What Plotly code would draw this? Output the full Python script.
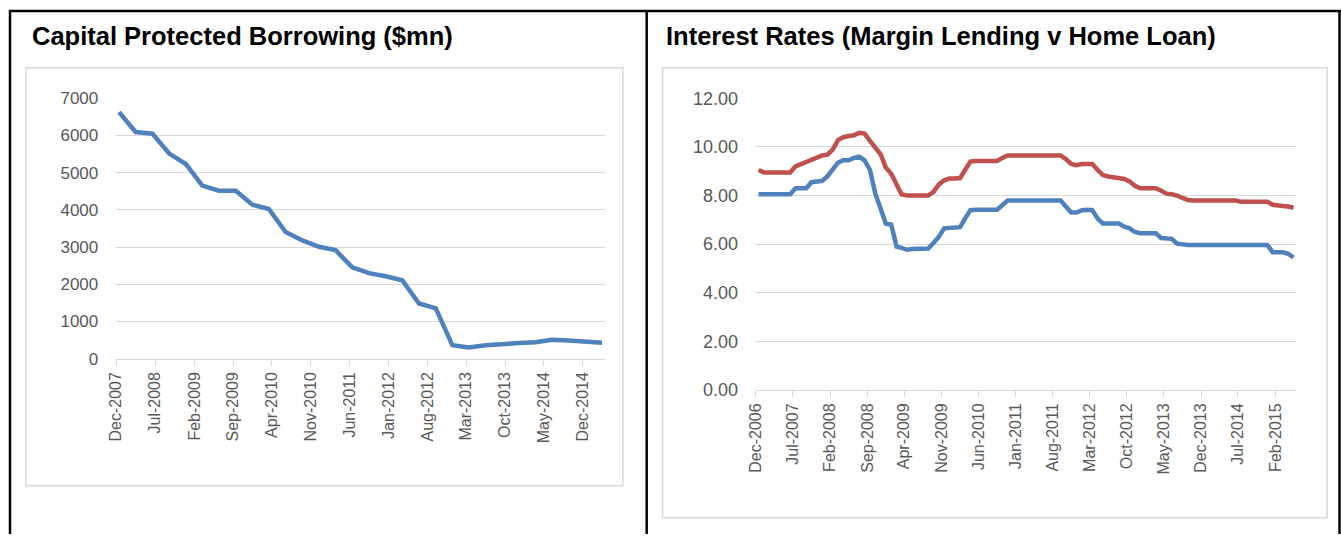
import pandas as pd
import plotly.graph_objects as go

W, H = 1341, 544

# ---------------- data ----------------
cpb_start = "2007-12-01"   # quarterly, Dec-2007 .. Mar-2015
cpb_values = [6630, 6095, 6050, 5515, 5235, 4655, 4515, 4515, 4140, 4025,
              3405, 3180, 3010, 2920, 2455, 2300, 2215, 2110, 1485, 1355,
              360, 300, 360, 405, 420, 440, 510, 490, 475, 430]

rates_start = "2006-12-01"  # monthly, Dec-2006 .. May-2015
margin_rate = [9.05, 8.95, 8.95, 8.95, 8.95, 8.95, 8.95, 9.20, 9.30, 9.35,
               9.45, 9.58, 9.65, 9.68, 9.90, 10.28, 10.40, 10.45, 10.48, 10.58,
               10.55, 10.25, 10.00, 9.70, 9.15, 8.90, 8.45, 8.05, 8.00, 8.00,
               8.00, 8.00, 8.00, 8.15, 8.45, 8.63, 8.70, 8.70, 8.72, 9.05,
               9.40, 9.42, 9.42, 9.42, 9.42, 9.42, 9.55, 9.65, 9.65, 9.65,
               9.65, 9.65, 9.65, 9.65, 9.65, 9.65, 9.65, 9.65, 9.50, 9.30,
               9.25, 9.30, 9.30, 9.30, 9.05, 8.85, 8.78, 8.75, 8.75, 8.68,
               8.58, 8.40, 8.30, 8.30, 8.30, 8.30, 8.20, 8.08, 8.05, 8.00,
               7.90, 7.82, 7.80, 7.80, 7.80, 7.80, 7.80, 7.80, 7.80, 7.80,
               7.80, 7.75, 7.75, 7.75, 7.75, 7.75, 7.75, 7.62, 7.57, 7.57,
               7.55, 7.50]
home_rate = [8.05, 8.05, 8.05, 8.05, 8.05, 8.05, 8.05, 8.30, 8.30, 8.30,
             8.55, 8.57, 8.60, 8.80, 9.10, 9.35, 9.45, 9.45, 9.55, 9.60,
             9.45, 9.05, 8.10, 7.45, 6.85, 6.80, 5.90, 5.85, 5.77, 5.80,
             5.82, 5.82, 5.82, 6.05, 6.30, 6.65, 6.67, 6.67, 6.70, 7.05,
             7.40, 7.42, 7.42, 7.42, 7.42, 7.42, 7.60, 7.80, 7.80, 7.80,
             7.80, 7.80, 7.80, 7.80, 7.80, 7.80, 7.80, 7.80, 7.55, 7.30,
             7.30, 7.40, 7.42, 7.40, 7.05, 6.85, 6.85, 6.85, 6.85, 6.72,
             6.65, 6.50, 6.45, 6.45, 6.45, 6.45, 6.25, 6.22, 6.22, 6.02,
             5.98, 5.97, 5.97, 5.97, 5.97, 5.97, 5.97, 5.97, 5.97, 5.97,
             5.97, 5.97, 5.97, 5.97, 5.97, 5.97, 5.97, 5.67, 5.67, 5.67,
             5.60, 5.45]

title_left = "Capital Protected Borrowing ($mn)"
title_right = "Interest Rates (Margin Lending v Home Loan)"

# month-centred dates
cpb_dates = pd.date_range(cpb_start, periods=len(cpb_values), freq="3MS") + pd.Timedelta(days=15)
rate_dates = pd.date_range(rates_start, periods=len(home_rate), freq="MS") + pd.Timedelta(days=15)

BLUE = "#4F81BD"
RED = "#C0504D"
GRID = "#D9D9D9"
TXT = "#595959"
FONT = "Liberation Sans"


def px(x):
    return x / W


def py(y):
    return 1 - y / H


fig = go.Figure()
fig.add_trace(go.Scatter(x=cpb_dates, y=cpb_values, mode="lines",
                         line=dict(color=BLUE, width=4.5), xaxis="x", yaxis="y",
                         showlegend=False))
fig.add_trace(go.Scatter(x=rate_dates, y=margin_rate, mode="lines",
                         line=dict(color=RED, width=4.5), xaxis="x2", yaxis="y2",
                         showlegend=False))
fig.add_trace(go.Scatter(x=rate_dates, y=home_rate, mode="lines",
                         line=dict(color=BLUE, width=4.5), xaxis="x2", yaxis="y2",
                         showlegend=False))

xcommon = dict(type="date", tickformat="%b-%Y", dtick="M7", tickangle=-90,
               ticks="outside", ticklen=6, tickcolor=GRID, showline=True,
               linecolor=GRID, linewidth=1, showgrid=False, zeroline=False,
               tickfont=dict(family=FONT, size=16, color=TXT), fixedrange=True)
ycommon = dict(showgrid=True, gridcolor=GRID, gridwidth=1, zeroline=False,
               showline=False, ticks="", ticklabelstandoff=17, fixedrange=True)

fig.update_layout(
    width=W, height=H, margin=dict(l=0, r=0, t=0, b=0),
    paper_bgcolor="white", plot_bgcolor="white",
    xaxis=dict(xcommon, domain=[px(108), px(600)], anchor="y",
               range=["2007-12-01", "2015-04-01"], tick0="2007-12-01"),
    yaxis=dict(ycommon, domain=[py(362), py(91.7)], anchor="x",
               range=[0, 7000], dtick=1000, tickformat="d",
               tickfont=dict(family=FONT, size=17, color=TXT)),
    xaxis2=dict(xcommon, domain=[px(752), px(1296)], anchor="y2",
                range=["2006-12-01", "2015-06-01"], tick0="2006-12-01"),
    yaxis2=dict(ycommon, domain=[py(394.5), py(91.7)], anchor="x2",
                range=[0, 12], dtick=2, tickformat=".2f",
                tickfont=dict(family=FONT, size=18, color=TXT)),
)

shapes = []
# outer table frame and divider
for (x0, y0, x1, y1) in [(0, 1, 1341, 1), (1, 0, 1, 544), (1339.5, 0, 1339.5, 544),
                         (642, 0, 642, 544)]:
    shapes.append(dict(type="line", xref="paper", yref="paper",
                       x0=px(x0), y0=py(y0), x1=px(x1), y1=py(y1),
                       line=dict(color="black", width=2.5)))
# chart area boxes
for (x0, y0, x1, y1) in [(17, 60, 618, 494), (658, 60, 1327, 527)]:
    shapes.append(dict(type="rect", xref="paper", yref="paper",
                       x0=px(x0), y0=py(y0), x1=px(x1), y1=py(y1),
                       line=dict(color=GRID, width=1.5), fillcolor="rgba(0,0,0,0)"))
fig.update_layout(shapes=shapes)

for txt, x in [(title_left, 21), (title_right, 659)]:
    fig.add_annotation(text="<b>%s</b>" % txt, xref="paper", yref="paper",
                       x=px(x), y=py(27), xanchor="left", yanchor="middle",
                       showarrow=False, font=dict(family=FONT, size=25.5, color="black"))

fig.write_html("out.html", config={"displayModeBar": False},
               post_script="document.body.style.margin='0';document.body.style.padding='0';"
                           "document.documentElement.style.overflow='hidden';"
                           "var d=document.getElementById('{plot_id}');"
                           "d.style.position='fixed';d.style.left='0px';d.style.top='0px';")
